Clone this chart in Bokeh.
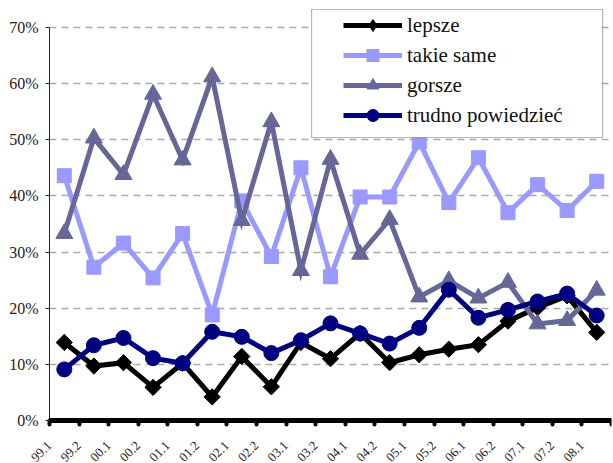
import math
from bokeh.plotting import figure
from bokeh.models import (FixedTicker, Range1d, Legend, LegendItem, BoxAnnotation,
                          ColumnDataSource)
from bokeh.embed import file_html
from bokeh.resources import INLINE

categories = ["99.1", "99.2", "00.1", "00.2", "01.1", "01.2", "02.1", "02.2", "03.1", "03.2",
              "04.1", "04.2", "05.1", "05.2", "06.1", "06.2", "07.1", "07.2", "08.1"]
lepsze = [13.9, 9.7, 10.3, 5.9, 10.2, 4.2, 11.4, 6.0, 13.9, 11.0,
          15.5, 10.3, 11.7, 12.7, 13.5, 17.7, 20.1, 22.2, 15.7]
takie_same = [43.6, 27.3, 31.6, 25.4, 33.3, 18.8, 39.1, 29.2, 45.0, 25.6,
              39.8, 39.8, 49.6, 38.8, 46.8, 37.0, 42.0, 37.4, 42.6]
gorsze = [33.3, 50.3, 43.8, 58.1, 46.4, 61.2, 35.6, 53.2, 26.7, 46.5,
          29.6, 35.8, 22.0, 24.9, 21.8, 24.6, 17.2, 17.8, 23.2]
trudno = [9.1, 13.4, 14.7, 11.1, 10.2, 15.8, 14.9, 12.0, 14.3, 17.3,
          15.5, 13.7, 16.5, 23.3, 18.3, 19.7, 21.2, 22.6, 18.7]
y_ticks = [0, 10, 20, 30, 40, 50, 60, 70]
series_names = ["lepsze", "takie same", "gorsze", "trudno powiedzieć"]

n = len(categories)
x = [i + 0.5 for i in range(n)]
FONT = "Times New Roman, Liberation Serif, serif"

# The frame covers the whole canvas below the top margin; both axes are pinned
# at the data origin so that their rotated / side labels are never clipped.
p = figure(width=613, height=463, output_backend="svg", toolbar_location=None,
           x_range=Range1d(-1.657, n), y_range=Range1d(-7.66, 73.38),
           min_border_left=0, min_border_right=2, min_border_top=8, min_border_bottom=0)
p.outline_line_color = None
p.background_fill_color = "white"

# grid
p.xgrid.visible = False
p.ygrid.grid_line_color = "#ababab"
p.ygrid.grid_line_width = 1.5
p.ygrid.grid_line_dash = "7 5"
p.ygrid.cross_bounds = (0, n)

# y axis
p.yaxis.fixed_location = 0
p.yaxis.ticker = FixedTicker(ticks=y_ticks)
p.yaxis.major_label_overrides = {t: f"{t}%" for t in y_ticks}
p.yaxis.bounds = (0, 70)
p.yaxis.axis_line_color = "#222222"
p.yaxis.axis_line_width = 1
p.yaxis.major_tick_line_color = "#222222"
p.yaxis.major_tick_out = 4
p.yaxis.major_tick_in = 0
p.yaxis.minor_tick_line_color = None
p.yaxis.major_label_text_font = FONT
p.yaxis.major_label_text_font_size = "16px"
p.yaxis.major_label_text_color = "#222222"
p.yaxis.major_label_standoff = 7

# x axis at 0 %, tick marks at category boundaries, rotated labels
p.xaxis.fixed_location = 0
p.xaxis.bounds = (0, n)
p.xaxis.ticker = FixedTicker(ticks=list(range(n + 1)))
ov = {i: c for i, c in enumerate(categories)}
ov[n] = ""
p.xaxis.major_label_overrides = ov
p.xaxis.axis_line_color = "black"
p.xaxis.axis_line_width = 5
p.xaxis.major_tick_line_color = "black"
p.xaxis.major_tick_line_width = 4
p.xaxis.major_tick_line_cap = "round"
p.xaxis.major_tick_out = 4
p.xaxis.major_tick_in = 0
p.xaxis.minor_tick_line_color = None
p.xaxis.major_label_orientation = math.pi / 4
p.xaxis.major_label_text_font = FONT
p.xaxis.major_label_text_font_size = "13px"
p.xaxis.major_label_text_color = "#222222"
p.xaxis.major_label_standoff = 19

styles = [
    (lepsze, "black", "square", 11.5, math.pi / 4),
    (takie_same, "#9999FF", "square", 14, 0),
    (gorsze, "#666699", "triangle", 17, 0),
    (trudno, "#000080", "circle", 15, 0),
]
items = []
for name, (vals, col, mk, sz, ang) in zip(series_names, styles):
    src = ColumnDataSource(dict(x=x, y=vals))
    l = p.line("x", "y", source=src, line_color=col, line_width=5, line_join="miter")
    s = p.scatter("x", "y", source=src, marker=mk, size=sz, angle=ang,
                  fill_color=col, line_color=col)
    if ang:
        # legend-only diamond sample (hidden in the plot itself)
        s_leg = p.scatter("x", "y", source=src, marker="diamond", size=17,
                          fill_color=col, line_color=col, visible=False)
        items.append(LegendItem(label=name, renderers=[l, s_leg]))
    else:
        items.append(LegendItem(label=name, renderers=[l, s]))

box = BoxAnnotation(left=8.86, right=18.70, bottom=50.4, top=73.2,
                    fill_color="white", fill_alpha=1.0, line_color="#111111", line_width=1.2)
p.add_layout(box)

legend = Legend(items=items, location=(343, 333), orientation="vertical",
                padding=0, spacing=0, margin=0,
                glyph_width=59, glyph_height=30, label_height=30, label_standoff=5,
                label_text_font=FONT, label_text_font_size="21px", label_text_color="#111111",
                background_fill_alpha=0, border_line_color=None,
                inactive_fill_alpha=0)
p.add_layout(legend)

open("out.html", "w").write(file_html(p, INLINE))
